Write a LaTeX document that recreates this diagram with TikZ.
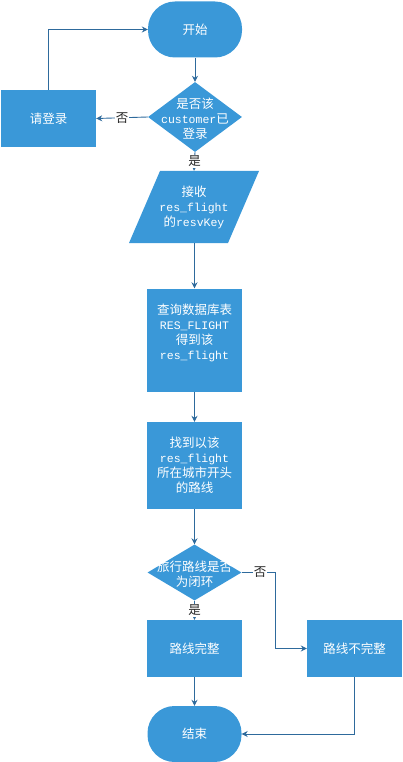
\documentclass[tikz,border=0pt]{standalone}
\usepackage{fontspec}
\setmainfont{Noto Sans CJK SC}
\newfontfamily\mono{Liberation Mono}[Scale=0.92]
\usetikzlibrary{shapes.geometric,arrows.meta}
\definecolor{fillb}{HTML}{3A98D8}
\definecolor{lineb}{HTML}{2E6A9C}
\begin{document}
\begin{tikzpicture}[x=1pt,y=-1pt,
  base/.style={fill=fillb, draw=none, text=white, font=\fontsize{12.5}{15}\selectfont, align=center, inner sep=0pt},
  proc/.style={base, rectangle, minimum width=95pt, minimum height=57pt},
  term/.style={base, rectangle, rounded corners=27pt, minimum width=94pt, minimum height=56pt},
  dec/.style={base, diamond, minimum width=94pt, minimum height=70pt},
  txt/.style={text=white, font=\fontsize{12.5}{15}\selectfont, align=center, inner sep=0pt},
  lbl/.style={text=black!85, fill=white, font=\fontsize{12.5}{15}\selectfont, inner sep=1pt},
  arr/.style={draw=lineb, line width=0.9pt, -{Stealth[length=6pt,width=6pt]}}
]
\useasboundingbox (0,0) rectangle (402,762);
\node[term] (start) at (195,29.5) {开始};
\node[dec] (d1) at (195,117) {};
\node[txt] (d1t) at (195,119) {是否该\\{\mono customer}已\\登录};
\node[proc] (login) at (48.5,118.5) {请登录};
\fill[fillb] (160,171) -- (259,171) -- (228,243) -- (129,243) -- cycle;
\node[txt, minimum width=100pt, minimum height=72pt] (in) at (194,207) {接收\\{\mono res\_flight}\\的{\mono resvKey}};
\node[proc, minimum height=103pt] (q) at (194.5,340) {};
\node[txt] (qt) at (194.5,333) {查询数据库表\\{\mono RES\_FLIGHT}\\得到该\\{\mono res\_flight}};
\node[proc, minimum height=87pt] (find) at (194.5,465.5) {找到以该\\{\mono res\_flight}\\所在城市开头\\的路线};
\node[dec, minimum height=56pt] (d2) at (194.5,572.5) {};
\node[txt] (d2t) at (194.5,574) {旅行路线是否\\为闭环};
\node[proc] (ok) at (194.5,648.5) {路线完整};
\node[proc] (nok) at (354.5,648.5) {路线不完整};
\node[term] (end) at (194.5,734) {结束};

\draw[arr] (start) -- (d1);
\draw[arr] (d1.west) -- node[lbl] {否} (login.east);
\draw[arr] (login.north) |- (start.west);
\draw[arr] (d1.south) -- node[lbl, pos=0.5] {是} (in.north);
\draw[arr] (in.south -| q.north) -- (q.north);
\draw[arr] (q) -- (find);
\draw[arr] (find) -- (d2);
\draw[arr] (d2.south) -- node[lbl] {是} (ok.north);
\coordinate (c1) at (275,572.5);
\draw[arr] (d2.east) -- node[lbl, pos=0.55] {否} (c1) |- (nok.west);
\draw[arr] (ok) -- (end);
\draw[arr] (nok.south) |- (end.east);
\end{tikzpicture}
\end{document}
